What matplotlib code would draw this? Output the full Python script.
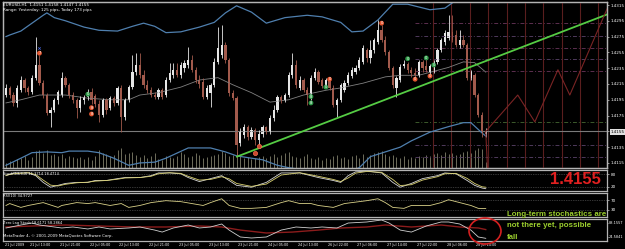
import numpy as np
import matplotlib.pyplot as plt
from matplotlib.patches import Ellipse

W, H = 625, 249

# ---- price data (EURUSD H1), bar index 0..129 ----
opens = [1.4201, 1.4210, 1.4201, 1.4191, 1.4207, 1.4220, 1.4210, 1.4205, 1.4223, 1.4239,
         1.4216, 1.4201, 1.4178, 1.4182, 1.4195, 1.4201, 1.4223, 1.4214, 1.4201, 1.4195,
         1.4185, 1.4195, 1.4199, 1.4205, 1.4200, 1.4190, 1.4176, 1.4195, 1.4185, 1.4197,
         1.4191, 1.4210, 1.4173, 1.4195, 1.4211, 1.4230, 1.4239, 1.4226, 1.4214, 1.4207,
         1.4201, 1.4199, 1.4207, 1.4201, 1.4220, 1.4226, 1.4233, 1.4226, 1.4235, 1.4239,
         1.4245, 1.4233, 1.4220, 1.4218, 1.4199, 1.4204, 1.4214, 1.4243, 1.4252, 1.4264,
         1.4245, 1.4204, 1.4197, 1.4140, 1.4150, 1.4161, 1.4148, 1.4157, 1.4144, 1.4152,
         1.4161, 1.4154, 1.4172, 1.4182, 1.4199, 1.4195, 1.4201, 1.4226, 1.4239, 1.4210,
         1.4220, 1.4207, 1.4201, 1.4223, 1.4230, 1.4220, 1.4212, 1.4220, 1.4210, 1.4188,
         1.4195, 1.4207, 1.4216, 1.4225, 1.4230, 1.4235, 1.4243, 1.4258, 1.4248, 1.4258,
         1.4268, 1.4283, 1.4271, 1.4255, 1.4235, 1.4210, 1.4220, 1.4238, 1.4240, 1.4233,
         1.4229, 1.4226, 1.4243, 1.4238, 1.4230, 1.4233, 1.4243, 1.4258, 1.4268, 1.4273,
         1.4281, 1.4277, 1.4264, 1.4271, 1.4264, 1.4223, 1.4226, 1.4201, 1.4176, 1.4152]
closes = [1.4210, 1.4201, 1.4191, 1.4210, 1.4220, 1.4210, 1.4205, 1.4223, 1.4239, 1.4216,
          1.4201, 1.4178, 1.4182, 1.4195, 1.4205, 1.4223, 1.4214, 1.4201, 1.4195, 1.4185,
          1.4195, 1.4199, 1.4205, 1.4195, 1.4190, 1.4176, 1.4195, 1.4182, 1.4197, 1.4191,
          1.4210, 1.4173, 1.4195, 1.4211, 1.4230, 1.4239, 1.4226, 1.4214, 1.4207, 1.4201,
          1.4199, 1.4207, 1.4199, 1.4220, 1.4229, 1.4233, 1.4226, 1.4239, 1.4242, 1.4245,
          1.4233, 1.4220, 1.4215, 1.4199, 1.4210, 1.4214, 1.4243, 1.4261, 1.4264, 1.4245,
          1.4204, 1.4197, 1.4138, 1.4154, 1.4161, 1.4148, 1.4157, 1.4144, 1.4152, 1.4161,
          1.4154, 1.4172, 1.4182, 1.4199, 1.4195, 1.4201, 1.4226, 1.4239, 1.4214, 1.4220,
          1.4207, 1.4201, 1.4223, 1.4230, 1.4218, 1.4212, 1.4220, 1.4210, 1.4188, 1.4195,
          1.4214, 1.4216, 1.4226, 1.4233, 1.4235, 1.4245, 1.4261, 1.4248, 1.4258, 1.4271,
          1.4283, 1.4271, 1.4255, 1.4235, 1.4214, 1.4223, 1.4237, 1.4240, 1.4233, 1.4229,
          1.4226, 1.4243, 1.4235, 1.4233, 1.4238, 1.4243, 1.4258, 1.4271, 1.4280, 1.4281,
          1.4271, 1.4264, 1.4271, 1.4264, 1.4223, 1.4230, 1.4201, 1.4176, 1.4153, 1.4155]
highs = [1.4215, 1.4212, 1.4205, 1.4214, 1.4225, 1.4223, 1.4212, 1.4226, 1.4274, 1.4252,
         1.4220, 1.4204, 1.4186, 1.4197, 1.4207, 1.4230, 1.4225, 1.4216, 1.4205, 1.4197,
         1.4200, 1.4201, 1.4209, 1.4210, 1.4202, 1.4195, 1.4197, 1.4197, 1.4200, 1.4200,
         1.4212, 1.4214, 1.4197, 1.4214, 1.4252, 1.4254, 1.4254, 1.4233, 1.4220, 1.4211,
         1.4205, 1.4210, 1.4210, 1.4224, 1.4242, 1.4242, 1.4242, 1.4243, 1.4245, 1.4262,
         1.4252, 1.4237, 1.4226, 1.4223, 1.4214, 1.4216, 1.4248, 1.4287, 1.4290, 1.4268,
         1.4248, 1.4207, 1.4200, 1.4159, 1.4164, 1.4163, 1.4161, 1.4159, 1.4157, 1.4163,
         1.4162, 1.4176, 1.4188, 1.4201, 1.4201, 1.4204, 1.4230, 1.4254, 1.4245, 1.4225,
         1.4223, 1.4211, 1.4226, 1.4235, 1.4233, 1.4223, 1.4223, 1.4223, 1.4214, 1.4197,
         1.4216, 1.4220, 1.4230, 1.4237, 1.4239, 1.4249, 1.4264, 1.4261, 1.4271, 1.4273,
         1.4296, 1.4290, 1.4276, 1.4258, 1.4238, 1.4225, 1.4240, 1.4245, 1.4243, 1.4237,
         1.4235, 1.4245, 1.4245, 1.4248, 1.4240, 1.4245, 1.4261, 1.4273, 1.4283, 1.4302,
         1.4302, 1.4283, 1.4283, 1.4277, 1.4267, 1.4233, 1.4229, 1.4204, 1.4180, 1.4159]
lows = [1.4199, 1.4197, 1.4187, 1.4186, 1.4205, 1.4205, 1.4201, 1.4202, 1.4220, 1.4214,
        1.4197, 1.4176, 1.4161, 1.4180, 1.4190, 1.4199, 1.4211, 1.4197, 1.4191, 1.4172,
        1.4180, 1.4190, 1.4195, 1.4190, 1.4186, 1.4167, 1.4173, 1.4177, 1.4182, 1.4187,
        1.4188, 1.4154, 1.4169, 1.4192, 1.4209, 1.4226, 1.4223, 1.4210, 1.4204, 1.4199,
        1.4196, 1.4196, 1.4196, 1.4199, 1.4218, 1.4223, 1.4224, 1.4223, 1.4230, 1.4235,
        1.4230, 1.4216, 1.4210, 1.4196, 1.4196, 1.4186, 1.4211, 1.4240, 1.4248, 1.4242,
        1.4200, 1.4195, 1.4123, 1.4137, 1.4147, 1.4144, 1.4145, 1.4138, 1.4135, 1.4148,
        1.4152, 1.4152, 1.4168, 1.4180, 1.4191, 1.4192, 1.4199, 1.4223, 1.4210, 1.4207,
        1.4205, 1.4188, 1.4195, 1.4220, 1.4215, 1.4210, 1.4210, 1.4207, 1.4186, 1.4173,
        1.4192, 1.4205, 1.4214, 1.4223, 1.4228, 1.4233, 1.4240, 1.4243, 1.4242, 1.4254,
        1.4266, 1.4268, 1.4252, 1.4233, 1.4210, 1.4199, 1.4218, 1.4235, 1.4229, 1.4224,
        1.4223, 1.4224, 1.4230, 1.4230, 1.4225, 1.4229, 1.4240, 1.4255, 1.4264, 1.4271,
        1.4268, 1.4262, 1.4261, 1.4262, 1.4220, 1.4220, 1.4199, 1.4173, 1.4148, 1.4148]
volumes = [250, 350, 300, 450, 500, 600, 400, 550, 850, 900,
           750, 900, 650, 700, 600, 700, 500, 600, 550, 500,
           550, 450, 550, 400, 600, 900, 750, 700, 600, 650,
           900, 1000, 700, 750, 800, 650, 550, 650, 500, 600,
           750, 450, 400, 600, 550, 500, 600, 800, 700, 550,
           600, 750, 650, 500, 550, 600, 650, 700, 850, 750,
           600, 650, 800, 600, 500, 550, 450, 500, 550, 600,
           500, 600, 700, 550, 650, 750, 800, 600, 550, 500,
           600, 700, 500, 450, 550, 400, 500, 450, 600, 650,
           500, 550, 450, 600, 650, 500, 700, 550, 650, 750,
           800, 850, 700, 600, 650, 550, 500, 600, 450, 550,
           500, 600, 550, 650, 600, 700, 750, 650, 800, 700,
           750, 650, 700, 800, 850, 750, 900, 1000, 950, 300]

# Bollinger bands (20) read at sample bars
bb_up_bars = [0, 1, 4, 7, 10, 11, 13, 16, 21, 25, 30, 34, 37, 40, 43, 47, 52, 56, 59, 62,
              66, 70, 75, 81, 85, 90, 93, 96, 100, 104, 108, 114, 118, 121, 125, 129]
bb_up = [1.4275, 1.4277, 1.4282, 1.4292, 1.4302, 1.4305, 1.4299, 1.4295, 1.4287, 1.4283,
         1.4282, 1.4288, 1.4292, 1.4288, 1.4280, 1.4281, 1.4287, 1.4293, 1.4305, 1.4314,
         1.4306, 1.4292, 1.4299, 1.4302, 1.4300, 1.4293, 1.4281, 1.4282, 1.4296, 1.4316,
         1.4316, 1.4309, 1.4311, 1.4321, 1.4337, 1.4347]
bb_mid_bars = [0, 4, 9, 16, 22, 28, 33, 36, 41, 47, 52, 57, 61, 66, 71, 76, 80, 86, 90,
               96, 102, 106, 111, 119, 123, 126, 129]
bb_mid = [1.4191, 1.4195, 1.4201, 1.4201, 1.4197, 1.4195, 1.4195, 1.4201, 1.4204, 1.4211,
          1.4220, 1.4223, 1.4214, 1.4204, 1.4192, 1.4195, 1.4201, 1.4207, 1.4210, 1.4216,
          1.4224, 1.4226, 1.4226, 1.4236, 1.4243, 1.4242, 1.4230]
bb_low_bars = [0, 4, 7, 11, 15, 17, 22, 25, 29, 33, 36, 40, 43, 49, 55, 59, 62, 66, 69,
               73, 76, 83, 90, 95, 98, 102, 106, 109, 114, 119, 123, 125, 128, 129]
bb_low = [1.4112, 1.4121, 1.4128, 1.4129, 1.4128, 1.4130, 1.4130, 1.4128, 1.4121, 1.4112,
          1.4115, 1.4116, 1.4121, 1.4134, 1.4134, 1.4129, 1.4124, 1.4121, 1.4119, 1.4112,
          1.4109, 1.4104, 1.4100, 1.4109, 1.4123, 1.4129, 1.4135, 1.4143, 1.4154, 1.4161,
          1.4166, 1.4166, 1.4153, 1.4149]

# signal arrows (circles with digits)
sig_bars = [9, 22, 23, 23, 67, 68, 82, 82, 86, 87, 101, 108, 110, 113, 114, 115]
sig_prices = [1.4254, 1.4202, 1.4185, 1.4177, 1.4128, 1.4137, 1.4199, 1.4191, 1.4211, 1.4221,
              1.4292, 1.4247, 1.4221, 1.4248, 1.4225, 1.4239]
sig_kind = ['sell', 'buy', 'sell', 'sell', 'ring', 'ring', 'buy', 'buy', 'buy', 'sell',
            'sell', 'buy', 'sell', 'buy', 'sell', 'buy']
sig_digit = ['7', '0', '8', '8', '', '', '8', '8', '0', '0', '0', '0', '0', '0', '0', '0']

# trend line, projection and levels
trend_bars = [62.1, 161.6]
trend_prices = [1.4123, 1.4303]
proj_bars = [129.5, 129, 137.6, 142.2, 148.4, 151.6, 161.6]
proj_prices = [1.4105, 1.4155, 1.4201, 1.4167, 1.4233, 1.4201, 1.4310]
vline_bars = [114.8, 119.7, 124.7, 129.6, 134.6, 139.5, 144.4, 149.4, 154.3, 159.3]
level_prices = [1.4292, 1.4276, 1.4261, 1.4247, 1.4231, 1.4167, 1.4138, 1.4123]
level_colors = ['#5c2f4f', '#4f3a5c', '#5c2f4f', '#4f3a5c', '#5c2f4f', '#3c5a2c', '#4f3a5c', '#4f3a5c']
last_price = 1.4155
price_ticks = [1.4315, 1.4295, 1.4275, 1.4255, 1.4235, 1.4215, 1.4195, 1.4175, 1.4155, 1.4135, 1.4115]

# stochastic (13,3,3)
st_bars = [0, 2, 6, 8, 10, 12, 14, 16, 19, 22, 24, 27, 30, 32, 36, 39, 41, 44, 47, 49, 52, 55,
           58, 60, 62, 66, 70, 74, 79, 84, 88, 90, 92, 94, 97, 101, 104, 106, 109, 112, 116,
           118, 121, 124, 126, 128, 129]
st_main = [73, 86, 86, 73, 41, 18, 27, 36, 41, 41, 50, 50, 59, 64, 64, 73, 86, 86, 82, 64, 45, 59,
           73, 50, 27, 18, 41, 86, 86, 64, 50, 41, 73, 91, 95, 86, 41, 18, 36, 59, 73,
           86, 82, 50, 27, 14, 11]
st_signal = [75, 82, 87, 78, 52, 28, 24, 32, 39, 42, 47, 50, 56, 62, 64, 70, 82, 87, 84, 70, 52, 55,
             68, 58, 36, 22, 33, 76, 87, 70, 55, 45, 62, 85, 93, 89, 55, 26, 30, 52, 68,
             82, 84, 60, 36, 20, 18]

# RSI(10)
rsi_bars = [0, 1, 4, 6, 10, 14, 15, 19, 22, 24, 28, 31, 33, 36, 39, 43, 47, 50, 53, 55, 58, 60,
            63, 66, 70, 74, 76, 79, 82, 84, 88, 91, 93, 97, 100, 102, 104, 107, 109, 111, 114,
            117, 119, 122, 125, 127, 129]
rsi = [48, 56, 40, 48, 60, 40, 48, 60, 56, 60, 48, 56, 40, 48, 60, 68, 64, 56, 48, 60, 76, 48,
       36, 36, 40, 60, 68, 56, 56, 48, 40, 56, 60, 68, 76, 60, 40, 36, 48, 48, 48,
       60, 72, 60, 48, 36, 35]

# Zero lag stochastic
zl_red_bars = [0, 7, 16, 25, 34, 43, 52, 58, 63, 70, 77, 84, 90, 97, 102, 109, 113, 117, 122, 127, 129]
zl_red = [70, 74.5, 79, 74.5, 70, 70, 74.5, 70, 56, 42.8, 47, 56, 65.5, 70, 79, 70, 74.5, 79, 70, 65.5, 58.3]
zl_wht_bars = [0, 4, 7, 9, 15, 18, 22, 25, 28, 33, 36, 40, 42, 45, 49, 52, 55, 58, 60, 63, 66, 70,
               74, 78, 82, 85, 89, 92, 97, 101, 103, 106, 109, 113, 117, 119, 122, 125, 127, 129]
zl_wht = [65.5, 79, 88, 79, 65.5, 70, 61, 70, 61, 65.5, 70, 56, 47, 65.5, 79, 65.5, 70, 83.6, 56,
          24.6, 20, 24.6, 56, 70, 65.5, 70, 65.5, 88, 92.7, 101.8, 88, 56, 47, 74.5, 92.7, 92.7,
          83.6, 56, 24.6, 18.6]

time_labels = ['21 Jul 2009', '21 Jul 13:00', '21 Jul 21:00', '22 Jul 05:00', '22 Jul 13:00',
               '22 Jul 21:00', '23 Jul 05:00', '23 Jul 13:00', '23 Jul 21:00', '24 Jul 05:00',
               '24 Jul 13:00', '26 Jul 22:00', '27 Jul 06:00', '27 Jul 14:00', '27 Jul 22:00',
               '28 Jul 06:00', '28 Jul 14:00']
time_label_bars = [-1.5, 6.5, 14.5, 22.5, 30.5, 38.5, 46.5, 54.5, 62.5, 70.5, 78.5, 86.5,
                   94.5, 102.5, 110.5, 118.5, 126.5]

# ---- figure ----
BG = 'black'
FRAME = '#b4b4b4'
TXT = 'white'
fig = plt.figure(figsize=(W / 100, H / 100), dpi=100, facecolor=BG)


def panel(y_top, y_bot, labelsize=3):
    a = fig.add_axes([3 / W, 1 - y_bot / H, 604 / W, (y_bot - y_top) / H])
    a.set_facecolor(BG)
    for s in a.spines.values():
        s.set_color(FRAME)
        s.set_linewidth(0.9)
    a.set_xlim(-0.8, 161.6)
    a.set_xticks([])
    a.yaxis.tick_right()
    a.tick_params(axis='y', colors=TXT, labelsize=labelsize, length=1.5, width=0.4, pad=1)
    return a


ax_v = panel(2, 168)
ax = fig.add_axes(ax_v.get_position(), sharex=ax_v)
ax.set_facecolor('none')
for s in ax.spines.values():
    s.set_color(FRAME)
    s.set_linewidth(0.9)
ax.yaxis.tick_right()
ax.tick_params(axis='y', colors=TXT, labelsize=3, length=1.5, width=0.4, pad=1)
ax.set_xticks([])
ax_v.set_yticks([])

bars = np.arange(len(closes))
o = np.array(opens)
c = np.array(closes)
bull = c >= o
col = np.where(bull, '#e6e6e6', '#a25a4c')

# volumes at the bottom of the main window
ax_v.vlines(bars, 0, volumes, colors='#6f6e5c', linewidth=0.7)
ax_v.set_ylim(0, 8300)

ax.set_ylim(1.41086, 1.43188)
ax.set_yticks(price_ticks)
ax.set_yticklabels([f'{p:.4f}' for p in price_ticks])
for lbl in ax.get_yticklabels():
    if lbl.get_text() == f'{last_price:.4f}':
        lbl.set_color('black')
        lbl.set_bbox(dict(facecolor='#e0e0e0', edgecolor='none', pad=0.6))

# levels, separators, current price line
ax.hlines(level_prices, 110, 161.6, colors=level_colors, linestyles=(0, (4, 2, 1, 2)), linewidth=0.7)
ax.vlines(vline_bars, 1.40, 1.44, colors='#5a1e1e', linewidth=0.8)
ax.axhline(last_price, color='#7a7a7a', linewidth=0.8)

# bollinger bands
ax.plot(bb_up_bars, bb_up, color='#4f7fae', linewidth=0.9)
ax.plot(bb_low_bars, bb_low, color='#4f7fae', linewidth=0.9)
ax.plot(bb_mid_bars, bb_mid, color='#808080', linewidth=0.6)

# candles
ax.vlines(bars, lows, highs, colors=col, linewidth=0.6)
body = np.maximum(np.abs(c - o), 0.00008)
ax.bar(bars, body, bottom=np.minimum(o, c), width=0.6, color=col, linewidth=0)

# trend line and projection
ax.plot(trend_bars, trend_prices, color='#55cc44', linewidth=1.3, clip_on=False)
ax.plot(proj_bars, proj_prices, color='#7a2424', linewidth=0.8)

# signals
for b, p, k, d in zip(sig_bars, sig_prices, sig_kind, sig_digit):
    if k == 'ring':
        ax.scatter(b, p, s=9, facecolor='#c84a30', edgecolor='#ff7050', linewidth=0.5, zorder=5)
        continue
    fc = '#2f9a48' if k == 'buy' else '#e2552f'
    ax.scatter(b, p, s=12, facecolor=fc, edgecolor='none', zorder=5)
    ax.text(b, p, d, color='white', fontsize=2.6, ha='center', va='center', zorder=6)
ax.scatter(sig_bars[0], sig_prices[0] + 0.0006, marker='x', s=3, color='#4a6adf', linewidth=0.5)

# stochastic panel
ax_st = panel(170, 191)
ax_st.set_ylim(0, 100)
ax_st.set_yticks([80, 20])
ax_st.axhline(80, color='#6a6a6a', linestyle=(0, (1, 1.5)), linewidth=0.5)
ax_st.axhline(20, color='#6a6a6a', linestyle=(0, (1, 1.5)), linewidth=0.5)
ax_st.plot(st_bars, st_main, color='#d8d8d8', linewidth=0.6)
ax_st.plot(st_bars, st_signal, color='#d8d070', linewidth=0.6)

# RSI panel
ax_r = panel(193, 217)
ax_r.set_ylim(0, 100)
ax_r.set_yticks([70, 30])
ax_r.axhline(70, color='#6a6a6a', linestyle=(0, (1, 1.5)), linewidth=0.5)
ax_r.axhline(30, color='#6a6a6a', linestyle=(0, (1, 1.5)), linewidth=0.5)
ax_r.plot(rsi_bars, rsi, color='#d8d088', linewidth=0.6)

# zero lag stochastic panel
ax_z = panel(219, 241, labelsize=2.5)
ax_z.tick_params(axis='y', pad=0.5, length=1)
ax_z.set_ylim(6.4, 106.3)
ax_z.set_yticks([88.1557, 24.5841])
ax_z.set_yticklabels(['88.1557', '24.5841'])
ax_z.plot(zl_red_bars, zl_red, color='#8c1c1c', linewidth=1.0)
ax_z.plot(zl_wht_bars, zl_wht, color='#d0d0d0', linewidth=0.6)

# time axis
for b, t in zip(time_label_bars, time_labels):
    ax_z.text(max(b, -0.3), -0.08, t, transform=ax_z.get_xaxis_transform(),
              color=TXT, fontsize=2.4, ha='left', va='top')

# texts
fig.text(3 / W, 1 - 5 / H, 'EURUSD,H1  1.4151 1.4158 1.4147 1.4155', color=TXT, fontsize=3.0, va='center')
fig.text(3 / W, 1 - 9.5 / H, 'Range: Yesterday: 125 pips, Today 173 pips', color=TXT, fontsize=3.0, va='center')
fig.text(3 / W, 1 - 174 / H, 'Stoch(13,3,3) 11.3714 18.4714', color=TXT, fontsize=2.6, va='center')
fig.text(3 / W, 1 - 196 / H, 'RSI(10) 34.9727', color=TXT, fontsize=2.6, va='center')
fig.text(3 / W, 1 - 223 / H, 'Zero Lag Stoch 18.6171 58.2864', color=TXT, fontsize=2.6, va='center')
fig.text(3 / W, 1 - 236 / H, 'MetaTrader 4, \u00a9 2001-2009 MetaQuotes Software Corp.', color=TXT,
         fontsize=2.8, va='center')

fig.text(575 / W, 1 - 180 / H, '1.4155', color='#e02020', fontsize=12, fontweight='bold',
         family=['Liberation Sans', 'DejaVu Sans'], ha='center', va='center')
note = ['Long-term stochastics are', 'not there yet, possible', 'fall']
for k, line in enumerate(note):
    fig.text(507 / W, 1 - (214 + 11.8 * k) / H, line, color='#9ccf2e', fontsize=5.7, fontweight='bold',
             family=['Liberation Sans Narrow', 'Liberation Sans', 'DejaVu Sans'], va='center')

fig.add_artist(Ellipse((485 / W, 1 - 231 / H), 32 / W, 26 / H, transform=fig.transFigure,
                       fill=False, edgecolor='#d42020', linewidth=1.2))

fig.savefig('out.png', dpi=100, facecolor=BG)
